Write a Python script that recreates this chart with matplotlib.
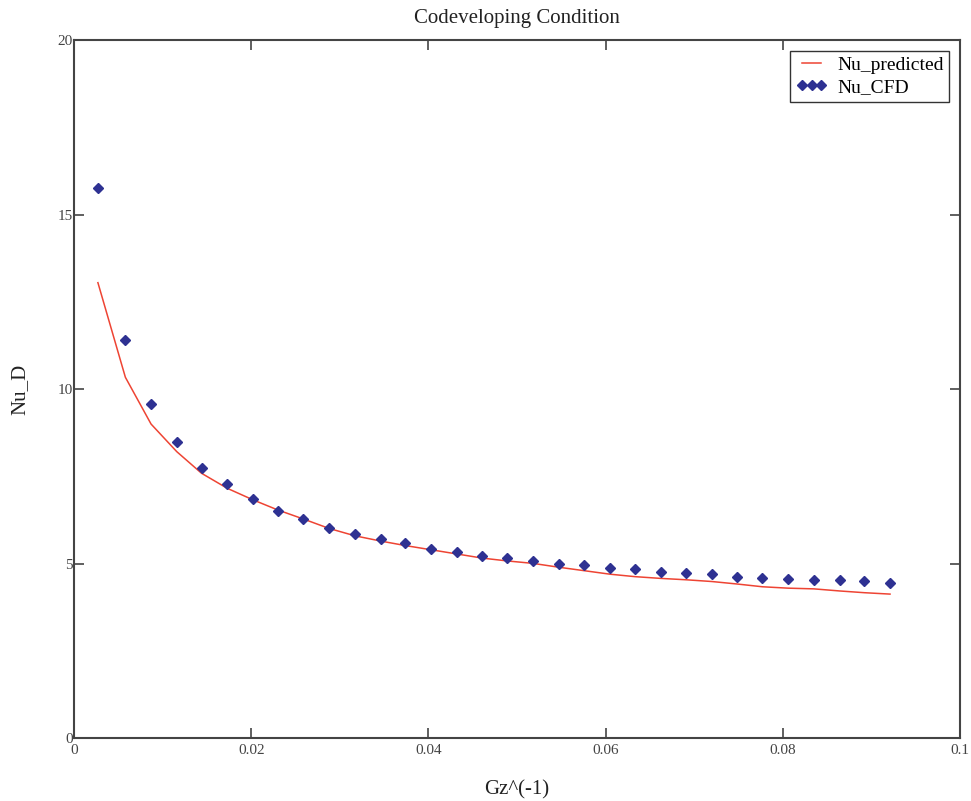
import matplotlib
matplotlib.use("Agg")
import matplotlib.pyplot as plt

plt.rcParams['font.family'] = ['Liberation Serif', 'DejaVu Serif']

# inverse Graetz number at each sample
gz_inv = [0.0027, 0.0058, 0.0087, 0.0116, 0.0144, 0.0173, 0.0202, 0.0230,
          0.0259, 0.0288, 0.0317, 0.0346, 0.0374, 0.0403, 0.0432, 0.0461,
          0.0489, 0.0518, 0.0547, 0.0576, 0.0605, 0.0633, 0.0662, 0.0691,
          0.0720, 0.0748, 0.0777, 0.0806, 0.0835, 0.0864, 0.0892, 0.0921]

nu_predicted = [13.05, 10.34, 9.00, 8.21, 7.59, 7.16, 6.83, 6.54,
                6.28, 6.01, 5.80, 5.65, 5.52, 5.40, 5.28, 5.16,
                5.08, 5.01, 4.90, 4.80, 4.70, 4.63, 4.58, 4.54,
                4.49, 4.42, 4.34, 4.30, 4.28, 4.22, 4.17, 4.13]

nu_cfd = [15.76, 11.41, 9.57, 8.48, 7.75, 7.28, 6.85, 6.51,
          6.27, 6.02, 5.85, 5.70, 5.58, 5.42, 5.33, 5.22,
          5.15, 5.08, 4.99, 4.95, 4.87, 4.84, 4.76, 4.73,
          4.70, 4.61, 4.58, 4.57, 4.54, 4.53, 4.50, 4.46]

x_ticks = [0, 0.02, 0.04, 0.06, 0.08, 0.1]
x_tick_labels = ['0', '0.02', '0.04', '0.06', '0.08', '0.1']
y_ticks = [0, 5, 10, 15, 20]

fig = plt.figure(figsize=(9.71, 8.01), dpi=100)
ax = fig.add_axes([0.0762, 0.0783, 0.9125, 0.8717])

ax.plot(gz_inv, nu_predicted, color='#ee4433', linewidth=1.1, label='Nu_predicted')
ax.plot(gz_inv, nu_cfd, linestyle='none', marker='D', markersize=5.2,
        color='#2e3192', label='Nu_CFD')

ax.set_xlim(0, 0.1)
ax.set_ylim(0, 20)
ax.set_xticks(x_ticks)
ax.set_xticklabels(x_tick_labels)
ax.set_yticks(y_ticks)
ax.tick_params(direction='in', length=7, width=1.2, color='#444444',
               labelsize=11, labelcolor='#444444', top=True, right=True, pad=4)
ax.tick_params(axis='y', pad=1)
for s in ax.spines.values():
    s.set_color('#444444')
    s.set_linewidth(1.5)

ax.set_title('Codeveloping Condition', fontsize=15, color='#222222', pad=12)
ax.set_xlabel('Gz^(-1)', fontsize=15, color='#222222', labelpad=17)
ax.set_ylabel('Nu_D', fontsize=15, color='#222222', labelpad=20)

leg = ax.legend(loc='upper right', numpoints=3, fontsize=14, fancybox=False,
                framealpha=1, edgecolor='#333333', borderaxespad=0.55,
                handlelength=1.6, handletextpad=0.5, borderpad=0.3,
                labelspacing=0.2, markerscale=0.9)
leg.get_frame().set_linewidth(1.0)

plt.savefig('out.png', dpi=100)
